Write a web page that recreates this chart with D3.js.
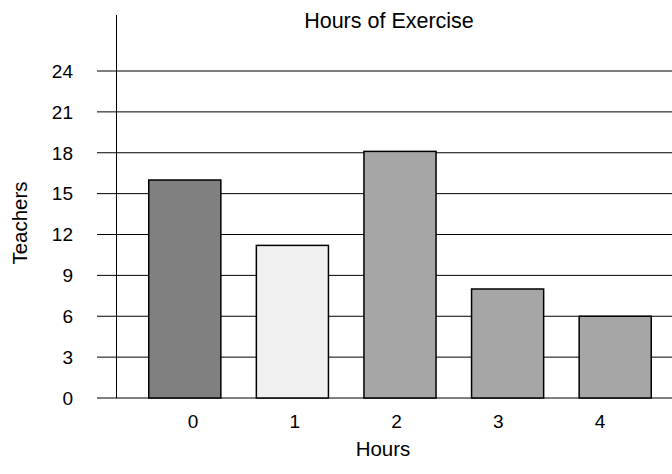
<!DOCTYPE html>
<html lang="en">
<head>
  <meta charset="UTF-8">
  <title>Hours of Exercise</title>
  <script src="https://d3js.org/d3.v7.min.js"></script>
  <style>
    body { margin: 0; background: #fff; }
    svg { display: block; font-family: 'Liberation Sans', Arial, sans-serif; }
    .tick-label { font-size: 19px; fill: #000; }
  </style>
</head>
<body>
  <svg id="chart" width="672" height="474"></svg>
  <script>
    const hours = ["0", "1", "2", "3", "4"];
    const teachers = [16, 11.2, 18.1, 8, 6];
    const barColors = ["#808080", "#f0f0f0", "#a6a6a6", "#a6a6a6", "#a6a6a6"];
    const yTicks = [0, 3, 6, 9, 12, 15, 18, 21, 24];

    const svg = d3.select("#chart");

    const y = d3.scaleLinear().domain([0, 24]).range([398, 71]);
    // bars sit in bands, the category labels use their own (slightly narrower) spacing
    const x = d3.scaleBand().domain(hours).range([131, 669]).paddingInner(0.33).paddingOuter(0.165);
    const xLabel = d3.scalePoint().domain(hours).range([193, 600]);

    // gridlines
    svg.append("g").selectAll("line").data(yTicks).enter()
      .append("line")
      .attr("x1", 97).attr("x2", 672)
      .attr("y1", d => y(d)).attr("y2", d => y(d))
      .attr("stroke", "#000").attr("stroke-width", 1);

    // y axis line
    svg.append("line")
      .attr("x1", 116.5).attr("x2", 116.5)
      .attr("y1", 15).attr("y2", y(0))
      .attr("stroke", "#000").attr("stroke-width", 1);

    // y tick labels
    svg.append("g").selectAll("text").data(yTicks).enter()
      .append("text")
      .attr("class", "tick-label")
      .attr("x", 73).attr("y", d => y(d))
      .attr("dy", "0.36em")
      .attr("text-anchor", "end")
      .text(d => d);

    // bars
    svg.append("g").selectAll("rect").data(teachers).enter()
      .append("rect")
      .attr("x", (d, i) => x(hours[i]))
      .attr("width", x.bandwidth())
      .attr("y", d => y(d))
      .attr("height", d => y(0) - y(d))
      .attr("fill", (d, i) => barColors[i])
      .attr("stroke", "#000")
      .attr("stroke-width", 1.5);

    // x tick labels
    svg.append("g").selectAll("text").data(hours).enter()
      .append("text")
      .attr("class", "tick-label")
      .attr("x", d => xLabel(d)).attr("y", 428)
      .attr("text-anchor", "middle")
      .text(d => d);

    svg.append("text")
      .attr("x", 389).attr("y", 28)
      .attr("text-anchor", "middle")
      .style("font-size", "21.5px")
      .text("Hours of Exercise");

    svg.append("text")
      .attr("x", 383).attr("y", 456)
      .attr("text-anchor", "middle")
      .style("font-size", "20.5px")
      .text("Hours");

    svg.append("text")
      .attr("transform", "translate(27,223) rotate(-90)")
      .attr("text-anchor", "middle")
      .style("font-size", "20.5px")
      .text("Teachers");
  </script>
</body>
</html>
